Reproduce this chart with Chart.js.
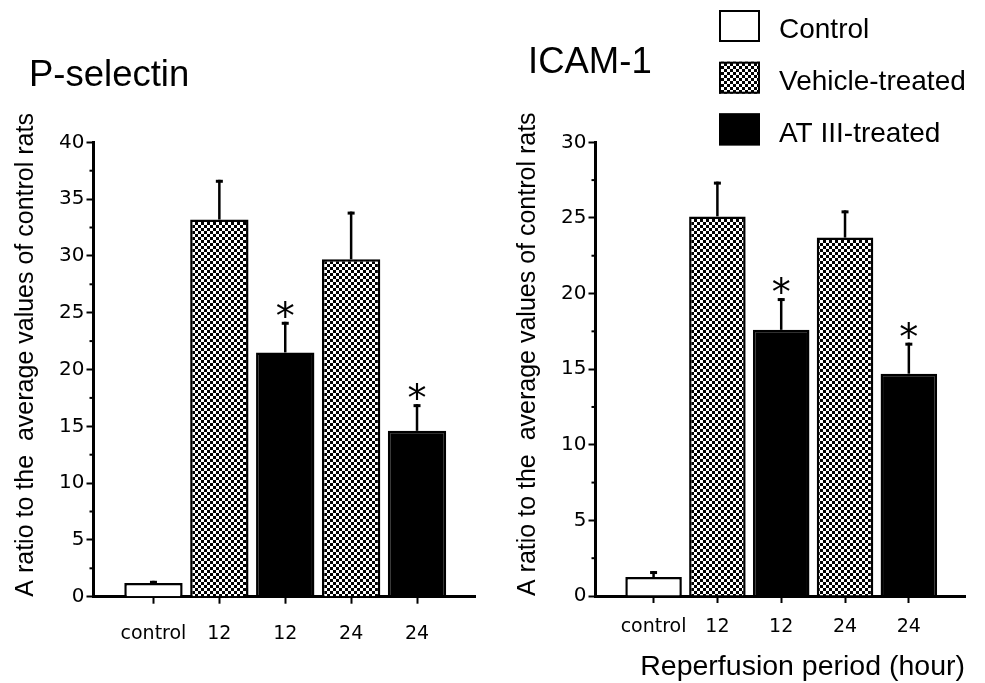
<!DOCTYPE html>
<html>
<head>
<meta charset="utf-8">
<script src="https://cdn.jsdelivr.net/npm/chart.js@4.4.1/dist/chart.umd.min.js"></script>
<style>
  html, body { margin: 0; padding: 0; background: #fff; }
  #wrap { position: relative; width: 985px; height: 683px; }
  canvas { position: absolute; top: 0; }
  #leftChart { left: 0; }
  #rightChart { left: 490px; }
</style>
</head>
<body>
<div id="wrap">
  <canvas id="leftChart" width="490" height="683"></canvas>
  <canvas id="rightChart" width="495" height="683"></canvas>
</div>
<script>
// Values
const categories = ['control', '12', '12', '24', '24'];
const groups = ['Control', 'Vehicle-treated', 'AT III-treated', 'Vehicle-treated', 'AT III-treated'];
const legendLabels = ['Control', 'Vehicle-treated', 'AT III-treated'];
const pSelectinMean = [1.2, 33.2, 21.5, 29.7, 14.6];
const pSelectinErr = [0.2, 3.5, 2.7, 4.2, 2.35];
const icamMean = [1.25, 25.1, 17.6, 23.7, 14.7];
const icamErr = [0.4, 2.3, 2.1, 1.8, 2.05];
const significant = [false, false, true, false, true];
const pSelectinTicks = [0, 5, 10, 15, 20, 25, 30, 35, 40];
const icamTicks = [0, 5, 10, 15, 20, 25, 30];

const yLabel = 'A ratio to the  average values of control rats';
const xLabel = 'Reperfusion period (hour)';

Chart.defaults.color = '#000';
Chart.defaults.font.family = 'DejaVu Sans';

// checkerboard fill used for the vehicle-treated bars
function checkerPattern(ctx) {
    const c = document.createElement('canvas');
    c.width = 6;
    c.height = 6;
    const g = c.getContext('2d');
    g.fillStyle = '#000';
    g.fillRect(0, 0, 6, 6);
    g.fillStyle = '#fff';
    g.fillRect(0, 0, 3, 3);
    g.fillRect(3, 3, 3, 3);
    return ctx.createPattern(c, 'repeat');
}

// error bars (upper only), asterisks and minor y ticks
const errorBars = {
    id: 'errorBars',
    afterDatasetsDraw(chart, args, opts) {
        const { ctx, chartArea, scales: { y } } = chart;
        const meta = chart.getDatasetMeta(0);
        ctx.save();
        ctx.strokeStyle = '#000';
        ctx.fillStyle = '#000';

        opts.means.forEach((m, i) => {
            const bar = meta.data[i];
            const yBar = y.getPixelForValue(m);
            const yTop = y.getPixelForValue(m + opts.errors[i]);
            ctx.lineWidth = 2.5;
            ctx.beginPath();
            ctx.moveTo(bar.x, yBar);
            ctx.lineTo(bar.x, yTop);
            ctx.stroke();
            ctx.lineWidth = 3;
            ctx.beginPath();
            ctx.moveTo(bar.x - 3.5, yTop + 1.5);
            ctx.lineTo(bar.x + 3.5, yTop + 1.5);
            ctx.stroke();
            if (opts.stars[i]) {
                ctx.font = '38px "DejaVu Sans"';
                ctx.textAlign = 'center';
                ctx.textBaseline = 'alphabetic';
                ctx.fillText('*', bar.x, yTop - 15 + 21.9);
            }
        });

        // minor ticks halfway between the labelled ones
        ctx.lineWidth = 2;
        const t = opts.ticks;
        for (let i = 0; i < t.length - 1; i++) {
            const py = y.getPixelForValue((t[i] + t[i + 1]) / 2);
            ctx.beginPath();
            ctx.moveTo(chartArea.left - 4, py);
            ctx.lineTo(chartArea.left, py);
            ctx.stroke();
        }
        ctx.restore();
    }
};

// legend block at the top right
const boxLegend = {
    id: 'boxLegend',
    afterDraw(chart, args, opts) {
        if (!opts.show) return;
        const ctx = chart.ctx;
        ctx.save();
        ctx.font = '28px "Liberation Sans"';
        ctx.textAlign = 'left';
        ctx.textBaseline = 'alphabetic';
        opts.labels.forEach((label, i) => {
            const top = 10 + i * 51.7;
            ctx.fillStyle = opts.fills[label];
            ctx.fillRect(229, top, 41, 32);
            ctx.strokeStyle = '#000';
            ctx.lineWidth = 2;
            ctx.strokeRect(230, top + 1, 39, 30);
            ctx.fillStyle = '#000';
            ctx.fillText(label, 289, top + 28.3);
        });
        ctx.restore();
    }
};

function makeChart(canvasId, cfg) {
    const ctx = document.getElementById(canvasId).getContext('2d');
    const fills = {
        'Control': '#fff',
        'Vehicle-treated': checkerPattern(ctx),
        'AT III-treated': '#000'
    };

    return new Chart(ctx, {
        type: 'bar',
        data: {
            datasets: [{
                label: cfg.title,
                data: cfg.means.map((v, i) => ({ x: i + 1, y: v })),
                backgroundColor: groups.map(g => fills[g]),
                borderColor: '#000',
                borderWidth: 2.5,
                barPercentage: 0.886,
                categoryPercentage: 1
            }]
        },
        options: {
            responsive: false,
            animation: false,
            layout: {
                padding: { left: cfg.padLeft, right: cfg.padRight, top: 0, bottom: 0 }
            },
            plugins: {
                legend: { display: false },
                tooltip: { enabled: false },
                title: {
                    display: true,
                    text: cfg.title,
                    align: 'start',
                    color: '#000',
                    font: { family: 'Liberation Sans', size: 36.5, weight: 'normal', lineHeight: 1.2 },
                    padding: { top: cfg.titleTop, bottom: cfg.titleBottom }
                },
                errorBars: {
                    means: cfg.means,
                    errors: cfg.errors,
                    stars: significant,
                    ticks: cfg.ticks
                },
                boxLegend: {
                    show: cfg.legend,
                    labels: legendLabels,
                    fills: fills
                }
            },
            scales: {
                x: {
                    type: 'linear',
                    min: 0.09,
                    max: 5.88,
                    offset: false,
                    afterBuildTicks: s => { s.ticks = categories.map((c, i) => ({ value: i + 1 })); },
                    afterFit: s => { s.height = cfg.xHeight; },
                    grid: {
                        drawOnChartArea: false,
                        drawTicks: true,
                        tickLength: 7,
                        tickWidth: 2,
                        tickColor: '#000',
                        offset: false
                    },
                    border: { display: true, color: '#000', width: 3 },
                    ticks: {
                        autoSkip: false,
                        maxRotation: 0,
                        color: '#000',
                        padding: cfg.xPad,
                        font: { family: 'DejaVu Sans', size: 19 },
                        callback: v => categories[v - 1]
                    },
                    title: {
                        display: cfg.xTitle,
                        text: xLabel,
                        align: 'end',
                        color: '#000',
                        font: { family: 'Liberation Sans', size: 28.5, lineHeight: 1 },
                        padding: { top: 0, bottom: 1.6 }
                    }
                },
                y: {
                    min: 0,
                    max: cfg.ticks[cfg.ticks.length - 1],
                    afterBuildTicks: s => { s.ticks = cfg.ticks.map(v => ({ value: v })); },
                    afterFit: s => { s.width = cfg.yWidth; },
                    grid: {
                        drawOnChartArea: false,
                        drawTicks: true,
                        tickLength: 7,
                        tickWidth: 2,
                        tickColor: '#000'
                    },
                    border: { display: true, color: '#000', width: 3 },
                    ticks: {
                        color: '#000',
                        padding: 2,
                        font: { family: 'DejaVu Sans', size: 20 }
                    },
                    title: {
                        display: true,
                        text: yLabel,
                        align: 'start',
                        color: '#000',
                        font: { family: 'Liberation Sans', size: 25, lineHeight: 1.2 },
                        padding: { top: cfg.yTitlePad, bottom: 0 }
                    }
                }
            }
        },
        plugins: [errorBars, boxLegend]
    });
}

makeChart('leftChart', {
    title: 'P-selectin',
    means: pSelectinMean,
    errors: pSelectinErr,
    ticks: pSelectinTicks,
    padLeft: 29,
    padRight: 15,
    titleTop: 54.2,
    titleBottom: 44.3,
    yWidth: 64.5,
    yTitlePad: -17.9,
    xHeight: 86.3,
    xPad: 18.7,
    xTitle: false,
    legend: false
});

makeChart('rightChart', {
    title: 'ICAM-1',
    means: icamMean,
    errors: icamErr,
    ticks: icamTicks,
    padLeft: 38,
    padRight: 20,
    titleTop: 40.9,
    titleBottom: 57.6,
    yWidth: 67.5,
    yTitlePad: -15.2,
    xHeight: 87,
    xPad: 12.7,
    xTitle: true,
    legend: true
});
</script>
</body>
</html>
